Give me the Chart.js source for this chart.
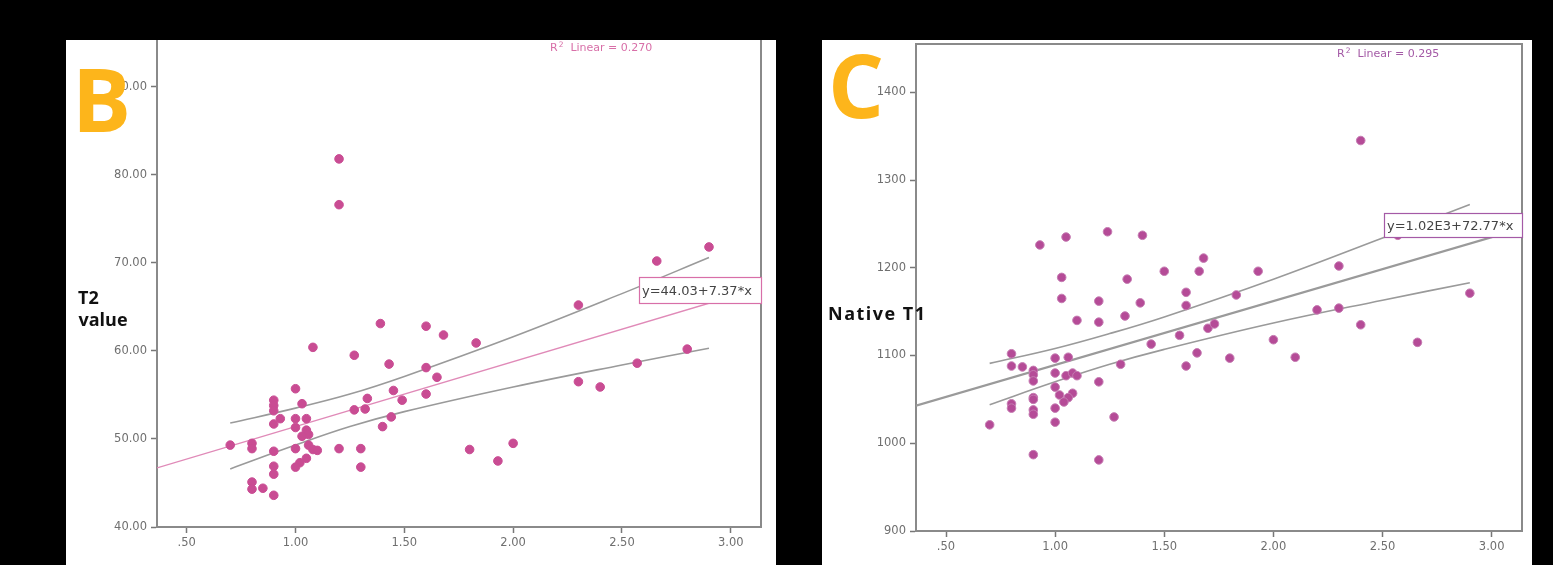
<!DOCTYPE html>
<html>
<head>
<meta charset="utf-8">
<script src="https://cdn.jsdelivr.net/npm/chart.js@4.4.1/dist/chart.umd.min.js"></script>
<style>
  html, body { margin: 0; padding: 0; background: #000; width: 1553px; height: 565px; overflow: hidden; }
  .panel { position: absolute; top: 40px; width: 710px; height: 525px; background: #fff; }
  #panelB { left: 66px; }
  #panelC { left: 822px; }
  canvas { display: block; }
</style>
</head>
<body>
<div class="panel" id="panelB"><canvas id="chartB" width="710" height="525"></canvas></div>
<div class="panel" id="panelC"><canvas id="chartC" width="710" height="525"></canvas></div>
<script>
// ratio on x, T2 / native T1 on y
const T2_X = [1.20, 1.20, 2.66, 2.90, 1.39, 1.08, 1.27, 1.43, 1.00, 1.45, 1.49, 1.33, 0.90, 0.90, 0.90, 1.03,
  1.27, 1.32, 0.93, 1.00, 1.05, 0.90, 1.00, 1.05, 1.06, 1.03, 1.06, 0.70, 0.80, 0.80, 0.90, 1.00,
  1.08, 1.10, 1.20, 1.30, 1.05, 1.02, 1.00, 0.90, 0.90, 1.30, 0.80, 0.80, 0.85, 0.90, 1.40, 1.44,
  1.60, 1.68, 1.83, 2.30, 1.60, 1.65, 1.60, 2.30, 2.40, 2.57, 2.80, 1.80, 2.00, 1.93];
const T2_Y = [81.8, 76.6, 70.2, 71.8, 63.1, 60.4, 59.5, 58.5, 55.7, 55.5, 54.4, 54.6, 54.4, 53.8, 53.2, 54.0,
  53.3, 53.4, 52.3, 52.3, 52.3, 51.7, 51.3, 51.0, 50.5, 50.3, 49.3, 49.3, 49.5, 48.9, 48.6, 48.9,
  48.8, 48.7, 48.9, 48.9, 47.8, 47.3, 46.8, 46.9, 46.0, 46.8, 45.1, 44.3, 44.4, 43.6, 51.4, 52.5,
  62.8, 61.8, 60.9, 65.2, 58.1, 57.0, 55.1, 56.5, 55.9, 58.6, 60.2, 48.8, 49.5, 47.5];

const T1_X = [0.93, 1.05, 1.24, 1.40, 1.03, 1.33, 1.50, 2.40, 2.57, 1.68, 1.66, 1.93, 1.60, 1.83, 2.30, 2.90,
  1.03, 1.20, 1.39, 1.32, 1.10, 1.20, 1.44, 0.80, 1.00, 1.06, 1.30, 0.80, 0.85, 0.90, 0.90, 1.00,
  1.05, 1.08, 1.10, 0.90, 1.20, 1.00, 1.02, 1.08, 1.06, 1.04, 0.90, 0.90, 0.80, 0.80, 1.00, 0.90,
  0.90, 0.70, 1.00, 1.27, 0.90, 1.20, 1.60, 1.57, 1.70, 1.73, 2.20, 2.30, 2.40, 2.00, 2.66, 1.65,
  1.80, 2.10, 1.60];
const T1_Y = [1226, 1235, 1241, 1237, 1189, 1187, 1196, 1345, 1237, 1211, 1196, 1196, 1172, 1169, 1202, 1171,
  1165, 1162, 1160, 1145, 1140, 1138, 1113, 1102, 1097, 1098, 1090, 1088, 1087, 1083, 1078, 1080,
  1077, 1080, 1077, 1071, 1070, 1064, 1055, 1057, 1052, 1047, 1052, 1050, 1045, 1040, 1040, 1038,
  1033, 1021, 1024, 1030, 987, 981, 1157, 1123, 1131, 1136, 1152, 1154, 1135, 1118, 1115, 1103,
  1097, 1098, 1088];

// confidence band curves, read at a few x positions
const BAND_X = [0.70, 1.00, 1.25, 1.50, 2.00, 2.50, 2.90];
const T2_UPPER = [51.8, 53.5, 55.1, 57.1, 61.6, 66.5, 70.6];
const T2_LOWER = [46.6, 49.3, 51.4, 53.1, 55.9, 58.4, 60.3];
const T1_UPPER = [1091, 1108, 1125, 1144, 1187, 1234, 1272];
const T1_LOWER = [1044, 1070, 1090, 1107, 1137, 1163, 1183];

// fitted lines as printed in the figure
const T2_FIT = { a: 44.03, b: 7.37 };
const T1_FIT = { a: 1016.5, b: 72.77 };

const X_TICKS = [0.5, 1.0, 1.5, 2.0, 2.5, 3.0];
const T2_TICKS = [40, 50, 60, 70, 80, 90];
const T1_TICKS = [900, 1000, 1100, 1200, 1300, 1400];

const W = 710, H = 525;

function pts(xs, ys) {
  return xs.map((x, i) => ({ x: x, y: ys[i] }));
}

function fitLine(fit, x0, x1) {
  return [{ x: x0, y: fit.a + fit.b * x0 }, { x: x1, y: fit.a + fit.b * x1 }];
}

function xLabel(v) {
  const s = v.toFixed(2);
  return v < 1 ? s.slice(1) : s;
}

// frame + texts drawn on top of the plot
const panelText = {
  id: 'panelText',
  afterDatasetsDraw(chart, args, o) {
    const ctx = chart.ctx, a = chart.chartArea;
    ctx.save();
    ctx.strokeStyle = '#8a8a8a';
    ctx.lineWidth = 2;
    ctx.beginPath();
    ctx.moveTo(a.right, a.bottom);
    ctx.lineTo(a.right, a.top);
    if (o.frameTop) ctx.lineTo(a.left, a.top);
    ctx.stroke();

    // equation box
    ctx.fillStyle = '#fff';
    ctx.fillRect(o.box[0], o.box[1], o.box[2], o.box[3]);
    ctx.strokeStyle = o.accent;
    ctx.lineWidth = 1.2;
    ctx.strokeRect(o.box[0] + 0.5, o.box[1] + 0.5, o.box[2], o.box[3]);
    ctx.fillStyle = '#444';
    ctx.font = '13px "DejaVu Sans"';
    ctx.textBaseline = 'alphabetic';
    ctx.fillText(o.eq, o.box[0] + 3, o.eqBase);

    // R2 label
    ctx.fillStyle = o.accent;
    ctx.font = '11px "DejaVu Sans"';
    let x = o.r2[0];
    ctx.fillText('R', x, o.r2[1]);
    x += ctx.measureText('R').width + 1;
    ctx.font = '7.5px "DejaVu Sans"';
    ctx.fillText('2', x, o.r2[1] - 4);
    x += ctx.measureText('2').width;
    ctx.font = '11px "DejaVu Sans"';
    ctx.fillText('  Linear = ' + o.r2Val, x, o.r2[1]);

    // axis title
    ctx.fillStyle = '#111';
    ctx.font = 'bold 18px "Open Sans"';
    ctx.letterSpacing = o.titleSpacing;
    o.yTitle.forEach(t => ctx.fillText(t[0], t[1], t[2]));
    ctx.letterSpacing = '0px';

    // panel letter
    ctx.fillStyle = '#FDB51B';
    ctx.font = 'bold 88px "Open Sans"';
    ctx.fillText(o.letter, o.letterPos[0], o.letterPos[1]);
    ctx.restore();
  }
};

function drawPanel(id, cfg) {
  const ctx = document.getElementById(id).getContext('2d');
  const tickFont = { family: 'DejaVu Sans', size: 11.5 };
  const grid = { drawOnChartArea: false, drawTicks: true, tickLength: 6, tickColor: '#777', tickWidth: 1.5 };
  const border = { display: true, color: '#8a8a8a', width: 2 };

  new Chart(ctx, {
    type: 'scatter',
    data: {
      datasets: [
        {
          data: pts(cfg.xs, cfg.ys),
          backgroundColor: cfg.dot,
          borderColor: cfg.dotBorder,
          borderWidth: 1,
          pointRadius: 4.3,
          order: 0
        },
        {
          type: 'line', data: fitLine(cfg.fit, cfg.xMin, cfg.xMax),
          borderColor: cfg.fitColor, borderWidth: cfg.fitWidth, pointRadius: 0, order: 2
        },
        {
          type: 'line', data: pts(BAND_X, cfg.upper),
          borderColor: '#9a9a9a', borderWidth: 1.6, pointRadius: 0, tension: 0.4, order: 1
        },
        {
          type: 'line', data: pts(BAND_X, cfg.lower),
          borderColor: '#9a9a9a', borderWidth: 1.6, pointRadius: 0, tension: 0.4, order: 1
        }
      ]
    },
    options: {
      responsive: false,
      animation: false,
      layout: { autoPadding: false, padding: { top: cfg.top, right: W - cfg.right, left: 0, bottom: 0 } },
      plugins: {
        legend: { display: false },
        tooltip: { enabled: false },
        panelText: cfg.text
      },
      scales: {
        x: {
          type: 'linear',
          min: cfg.xMin, max: cfg.xMax,
          afterBuildTicks: s => { s.ticks = X_TICKS.map(v => ({ value: v })); },
          afterFit: s => { s.height = H - cfg.bottom; s.paddingLeft = 0; s.paddingRight = 0; },
          border: border, grid: grid,
          ticks: { color: '#6f6f6f', font: tickFont, padding: 3, maxRotation: 0, autoSkip: false, callback: xLabel }
        },
        y: {
          type: 'linear',
          min: cfg.yMin, max: cfg.yMax,
          afterBuildTicks: s => { s.ticks = cfg.yTicks.map(v => ({ value: v })); },
          afterFit: s => { s.width = cfg.left; s.paddingTop = 0; s.paddingBottom = 0; },
          border: border, grid: grid,
          ticks: { color: '#6f6f6f', font: tickFont, padding: 4, autoSkip: false, callback: cfg.yLabel }
        }
      }
    },
    plugins: [panelText]
  });
}

drawPanel('chartB', {
  xs: T2_X, ys: T2_Y, upper: T2_UPPER, lower: T2_LOWER, fit: T2_FIT,
  xMin: 0.3635, xMax: 3.139, yMin: 40, yMax: 95.3, yTicks: T2_TICKS,
  yLabel: v => v.toFixed(2),
  left: 91, right: 695, top: 0, bottom: 487,
  dot: '#C94C93', dotBorder: '#C94C93', fitColor: '#E08AB8', fitWidth: 1.4,
  text: {
    frameTop: false, accent: '#D86FA8', box: [573, 237, 122, 26], eq: 'y=44.03+7.37*x', eqBase: 255,
    r2: [484, 10.5], r2Val: '0.270',
    yTitle: [['T2', 12, 263.5], ['value', 12.5, 286]], titleSpacing: '0px',
    letter: 'B', letterPos: [6, 92]
  }
});

drawPanel('chartC', {
  xs: T1_X, ys: T1_Y, upper: T1_UPPER, lower: T1_LOWER, fit: T1_FIT,
  xMin: 0.3625, xMax: 3.139, yMin: 900, yMax: 1455, yTicks: T1_TICKS,
  yLabel: v => String(v),
  left: 94, right: 700, top: 4, bottom: 491,
  dot: '#B54B97', dotBorder: '#C57CB2', fitColor: '#9a9a9a', fitWidth: 2.4,
  text: {
    frameTop: true, accent: '#A45AA6', box: [562, 173, 138, 24], eq: 'y=1.02E3+72.77*x', eqBase: 190,
    r2: [515, 17.3], r2Val: '0.295',
    yTitle: [['Native T1', 6, 279.5]], titleSpacing: '1.5px',
    letter: 'C', letterPos: [6, 78]
  }
});
</script>
</body>
</html>
